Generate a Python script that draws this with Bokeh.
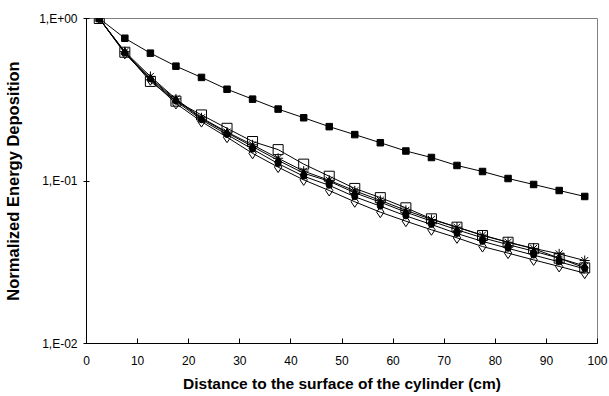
from bokeh.plotting import figure
from bokeh.models import FixedTicker, Range1d
from bokeh.embed import file_html
from bokeh.resources import INLINE

x = [2.5, 7.5, 12.5, 17.5, 22.5, 27.5, 32.5, 37.5, 42.5, 47.5,
     52.5, 57.5, 62.5, 67.5, 72.5, 77.5, 82.5, 87.5, 92.5, 97.5]

upper_filled_square = [1.0, 0.756, 0.612, 0.509, 0.434, 0.367, 0.319, 0.277, 0.245, 0.216,
                       0.193, 0.172, 0.153, 0.1395, 0.1246, 0.1144, 0.1036, 0.0952, 0.0874, 0.0803]
open_square = [1.0, 0.62, 0.41, 0.31, 0.255, 0.211, 0.175, 0.156, 0.127, 0.107,
               0.090, 0.079, 0.0684, 0.0585, 0.052, 0.0462, 0.042, 0.0383, 0.0335, 0.0292]
asterisk = [1.0, 0.625, 0.44, 0.32, 0.245, 0.20, 0.167, 0.138, 0.115, 0.101,
            0.087, 0.076, 0.066, 0.058, 0.052, 0.0465, 0.042, 0.0385, 0.0356, 0.0324]
filled_triangle = [1.0, 0.62, 0.43, 0.316, 0.242, 0.198, 0.163, 0.134, 0.1117, 0.0997,
                   0.0846, 0.0741, 0.0643, 0.0566, 0.0501, 0.0447, 0.0406, 0.0370, 0.0335, 0.0300]
filled_circle = [1.0, 0.615, 0.425, 0.31, 0.238, 0.193, 0.157, 0.128, 0.107, 0.094,
                 0.080, 0.070, 0.061, 0.054, 0.0475, 0.0425, 0.0385, 0.035, 0.0318, 0.0288]
open_diamond = [1.0, 0.61, 0.42, 0.30, 0.232, 0.186, 0.148, 0.1217, 0.1016, 0.0874,
                0.0745, 0.0643, 0.0566, 0.0501, 0.0447, 0.0395, 0.036, 0.0327, 0.0298, 0.0271]

x_ticks = [0, 10, 20, 30, 40, 50, 60, 70, 80, 90, 100]
y_ticks = [0.01, 0.1, 1.0]
y_tick_labels = ["1,E-02", "1,E-01", "1,E+00"]

FONT = "Liberation Sans"

p = figure(width=609, height=396, y_axis_type="log",
           x_range=Range1d(0, 100), y_range=Range1d(0.01, 1.0),
           output_backend="svg", toolbar_location=None,
           min_border_left=86, min_border_right=12, min_border_top=18, min_border_bottom=53)

p.background_fill_color = "white"
p.border_fill_color = "white"
p.outline_line_color = "#808080"
p.outline_line_width = 1
p.xgrid.visible = False
p.ygrid.visible = False

# lines
for ys in [upper_filled_square, open_square, asterisk, filled_triangle, filled_circle, open_diamond]:
    p.line(x, ys, line_color="black", line_width=1)

# markers
p.scatter(x, upper_filled_square, marker="square", size=6.5, fill_color="black", line_color="black")
p.scatter(x, open_diamond, marker="diamond", size=11, fill_color=None, line_color="black", line_width=1)
p.scatter(x, filled_circle, marker="circle", size=6, fill_color="black", line_color="black")
p.scatter(x, filled_triangle, marker="triangle", size=7, fill_color="black", line_color="black")
p.scatter(x, open_square, marker="square", size=10, fill_color=None, line_color="black", line_width=1)
p.scatter(x, asterisk, marker="asterisk", size=10, line_color="black", line_width=1)

# x axis
p.xaxis.ticker = FixedTicker(ticks=x_ticks)
p.xaxis.axis_label = "Distance to the surface of the cylinder (cm)"
p.xaxis.axis_label_text_font = FONT
p.xaxis.axis_label_text_font_style = "bold"
p.xaxis.axis_label_text_font_size = "15.5px"
p.xaxis.axis_label_text_color = "black"
p.xaxis.axis_label_standoff = 7
p.xaxis.major_label_text_font = FONT
p.xaxis.major_label_text_font_size = "12px"
p.xaxis.major_label_text_color = "black"
p.xaxis.major_label_standoff = 12
p.xaxis.major_tick_in = 5
p.xaxis.major_tick_out = 0
p.xaxis.minor_tick_line_color = None
p.xaxis.axis_line_color = "black"
p.xaxis.major_tick_line_color = "black"

# y axis
p.yaxis.ticker = FixedTicker(ticks=y_ticks, minor_ticks=[])
p.yaxis.major_label_overrides = {t: l for t, l in zip(y_ticks, y_tick_labels)}
p.yaxis.axis_label = "Normalized Energy Deposition"
p.yaxis.axis_label_text_font = FONT
p.yaxis.axis_label_text_font_style = "bold"
p.yaxis.axis_label_text_font_size = "16.5px"
p.yaxis.axis_label_text_color = "black"
p.yaxis.axis_label_standoff = 14
p.yaxis.major_label_text_font = FONT
p.yaxis.major_label_text_font_size = "12px"
p.yaxis.major_label_text_color = "black"
p.yaxis.major_label_standoff = 6
p.yaxis.major_tick_in = 3
p.yaxis.major_tick_out = 3
p.yaxis.minor_tick_line_color = None
p.yaxis.axis_line_color = "black"
p.yaxis.major_tick_line_color = "black"

open("out.html", "w").write(file_html(p, INLINE))
